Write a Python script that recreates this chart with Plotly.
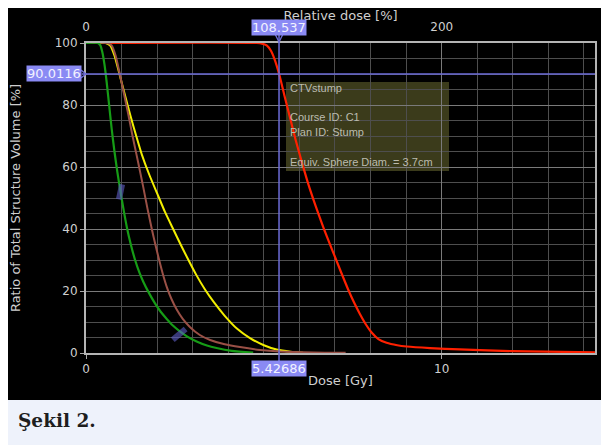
import plotly.graph_objects as go

# ---------------- data ----------------
green_dose = [0.00, 0.33, 0.40, 0.46, 0.52, 0.58, 0.65, 0.72, 0.80, 0.88, 0.97, 1.06, 1.15, 1.26, 1.38, 1.50, 1.61,
              1.75, 1.94, 2.10, 2.27, 2.45, 2.64, 2.85, 3.11, 3.40, 3.67, 4.10, 4.70]
green_vol = [100.0, 100.0, 99.3, 97.0, 93.0, 87.5, 80.0, 72.5, 65.0, 58.5, 52.0, 46.0, 40.5, 35.0, 30.0, 26.0, 23.0,
             19.8, 16.0, 13.3, 11.0, 8.8, 7.0, 5.3, 3.7, 2.4, 1.6, 0.7, 0.1]

brown_dose = [0.00, 0.60, 0.72, 0.83, 0.94, 1.06, 1.18, 1.30, 1.42, 1.52, 1.61, 1.73, 1.85, 1.95, 2.05, 2.16, 2.28,
              2.40, 2.55, 2.72, 2.92, 3.20, 3.49, 3.90, 4.33, 4.90, 5.45, 6.40, 7.30]
brown_vol = [100.0, 100.0, 99.2, 96.0, 90.5, 84.0, 77.5, 70.5, 64.0, 58.5, 53.5, 46.5, 40.0, 35.0, 30.3, 25.5, 21.0,
             17.5, 14.0, 11.0, 8.4, 5.8, 4.2, 2.8, 1.9, 1.0, 0.5, 0.15, 0.05]

yellow_dose = [0.00, 0.55, 0.68, 0.80, 0.94, 1.10, 1.25, 1.40, 1.57, 1.78, 2.00, 2.22, 2.45, 2.66, 2.88, 3.10, 3.35,
               3.60, 3.90, 4.25, 4.61, 5.00, 5.36, 5.75, 6.10]
yellow_vol = [100.0, 100.0, 99.2, 96.0, 90.0, 83.0, 76.5, 70.5, 64.0, 57.5, 51.5, 45.5, 40.0, 35.0, 30.0, 25.2, 20.4,
              16.3, 12.0, 7.8, 4.8, 2.5, 1.1, 0.4, 0.1]

red_dose = [0.00, 4.80, 4.95, 5.08, 5.20, 5.31, 5.43, 5.58, 5.74, 5.90, 6.07, 6.25, 6.46, 6.67, 6.84, 7.00, 7.18,
            7.37, 7.54, 7.70, 7.87, 8.03, 8.22, 8.45, 8.75, 9.02, 9.67, 10.50, 12.00, 14.31]
red_vol = [100.0, 100.0, 99.8, 99.2, 97.5, 94.5, 90.0, 83.0, 75.7, 68.5, 61.5, 54.5, 47.3, 40.6, 35.6, 31.0, 25.8,
           20.5, 16.2, 12.6, 9.2, 6.6, 4.5, 3.3, 2.5, 2.1, 1.6, 1.15, 0.6, 0.2]

# handles drawn on the curves (dose, volume)
handle_dose = [0.12, 0.97, 2.62]
handle_vol = [100.2, 52.0, 6.0]

# cursor readout
cursor_dose = 5.42686
cursor_rel = 108.537
cursor_vol = 90.0116

x_max = 14.31
rel_per_gy = cursor_rel / cursor_dose

x_ticks = [0, 10]
rel_ticks = [0, 200]
y_ticks = [0, 20, 40, 60, 80, 100]

legend_lines = ["CTVstump", "Course ID: C1", "Plan ID: Stump", "Equiv. Sphere Diam. = 3.7cm"]
legend_rows = [88.5, 117, 132, 162]

# ---------------- layout geometry (page has an 8px body margin) ----------------
OFF = 8
W, H = 609 - OFF, 445 - OFF
L, T = 86 - OFF, 43 - OFF
PW, PH = 509, 310
R, B = W - L - PW, H - T - PH


def px_x(px):  # reference-picture pixel -> paper x
    return (px - OFF - L) / PW


def px_y(py):  # reference-picture pixel -> paper y
    return (T + PH - (py - OFF)) / PH


TXT = "#cfcfcf"
CUR = "#6d6dd8"
FONT = "DejaVu Sans"
SPL = 0.6

fig = go.Figure()

fig.add_trace(go.Scatter(x=red_dose, y=red_vol, mode="lines", line=dict(color="#ff2000", width=2.2, shape="spline", smoothing=SPL), cliponaxis=False, hoverinfo="skip"))
fig.add_trace(go.Scatter(x=yellow_dose, y=yellow_vol, mode="lines", line=dict(color="#f2ee00", width=2, shape="spline", smoothing=SPL), cliponaxis=False, hoverinfo="skip"))
fig.add_trace(go.Scatter(x=brown_dose, y=brown_vol, mode="lines", line=dict(color="#9a5046", width=2, shape="spline", smoothing=SPL), cliponaxis=False, hoverinfo="skip"))
fig.add_trace(go.Scatter(x=green_dose, y=green_vol, mode="lines", line=dict(color="#169c16", width=2.2, shape="spline", smoothing=SPL), cliponaxis=False, hoverinfo="skip"))

fig.add_trace(go.Scatter(
    x=handle_dose, y=handle_vol, mode="markers", cliponaxis=False, hoverinfo="skip",
    marker=dict(symbol="line-ns", size=[7, 11, 12], angle=[0, 12, 50],
                line=dict(color="rgba(95,95,200,0.85)", width=[10, 6, 6])),
))

# invisible trace for the relative-dose axis
fig.add_trace(go.Scatter(x=[0, x_max * rel_per_gy], y=[None, None], xaxis="x2", mode="lines", hoverinfo="skip"))

shapes = [
    # dark panel and caption panel
    dict(type="rect", xref="paper", yref="paper", x0=px_x(7), x1=px_x(603), y0=px_y(400), y1=px_y(6),
         fillcolor="black", line=dict(width=0), layer="below"),
    dict(type="rect", xref="paper", yref="paper", x0=px_x(7), x1=px_x(603), y0=px_y(445), y1=px_y(400),
         fillcolor="#eef2fb", line=dict(width=0), layer="below"),
    # info box
    dict(type="rect", xref="paper", yref="paper", x0=px_x(286), x1=px_x(449), y0=px_y(171), y1=px_y(82),
         fillcolor="rgba(130,130,60,0.45)", line=dict(width=0), layer="between"),
    # cursor lines
    dict(type="line", xref="x", yref="paper", x0=cursor_dose, x1=cursor_dose, y0=px_y(361), y1=px_y(34),
         line=dict(color=CUR, width=1.5)),
    dict(type="line", xref="paper", yref="y", x0=px_x(82), x1=1, y0=cursor_vol, y1=cursor_vol,
         line=dict(color=CUR, width=1.5)),
    # little chevrons at the cursor labels
    dict(type="path", xref="x", yref="paper", xsizemode="pixel", ysizemode="pixel",
         xanchor=cursor_dose, yanchor=1, path="M -4,9 L 0,1 L 4,9", line=dict(color=CUR, width=1.3)),
    dict(type="path", xref="x", yref="y", xsizemode="pixel", ysizemode="pixel",
         xanchor=cursor_dose, yanchor=0, path="M -4,-8 L 0,0 L 4,-8", line=dict(color=CUR, width=1.3)),
    dict(type="path", xref="paper", yref="y", xsizemode="pixel", ysizemode="pixel",
         xanchor=0, yanchor=cursor_vol, path="M -5,4 L 0,0 L -5,-4", line=dict(color=CUR, width=1.3)),
]

lab = dict(showarrow=False, bgcolor="#8a8af4", font=dict(family=FONT, size=13, color="#f2f2ff"), borderpad=0,
           xanchor="center", yanchor="middle")
annotations = [
    dict(text=f"{cursor_rel:g}", x=cursor_dose, xref="x", y=px_y(27), yref="paper", **lab),
    dict(text=f"{cursor_dose:g}", x=cursor_dose, xref="x", y=px_y(368), yref="paper", **lab),
    dict(text=f"{cursor_vol:g}", x=px_x(54), xref="paper", y=cursor_vol, yref="y", **lab),
    dict(text="<b>Şekil 2.</b>", x=px_x(16), xref="paper", xanchor="left", y=px_y(421), yref="paper",
         yanchor="middle", showarrow=False, font=dict(family="DejaVu Serif", size=18.5, color="#1e1e1e")),
]
for line, row in zip(legend_lines, legend_rows):
    annotations.append(dict(text=line, x=px_x(288), xref="paper", xanchor="left", y=px_y(row), yref="paper",
                            yanchor="middle", showarrow=False,
                            font=dict(family="Liberation Sans", size=11, color="#bcbcae")))

fig.update_layout(
    width=W, height=H, margin=dict(l=L, r=R, t=T, b=B, autoexpand=False),
    paper_bgcolor="white", plot_bgcolor="black", showlegend=False,
    shapes=shapes, annotations=annotations,
    font=dict(family=FONT, color=TXT),
    xaxis=dict(range=[0, x_max], tickvals=x_ticks, ticks="outside", ticklen=4, tickcolor="#a8a8a8",
               showgrid=True, gridcolor="#7a7a7a", gridwidth=1.3, automargin=False,
               minor=dict(dtick=1, tick0=0, showgrid=True, gridcolor="#4e4e4e", gridwidth=1.3),
               showline=True, linecolor="#b4b4b4", linewidth=2, mirror=True, zeroline=False,
               tickfont=dict(family=FONT, size=12, color=TXT),
               title=dict(text="Dose [Gy]", font=dict(family=FONT, size=13, color=TXT), standoff=0)),
    xaxis2=dict(overlaying="x", side="top", range=[0, x_max * rel_per_gy], tickvals=rel_ticks,
                showgrid=False, ticks="outside", ticklen=6, tickcolor="rgba(0,0,0,0)", showline=False,
                zeroline=False, automargin=False, tickfont=dict(family=FONT, size=12, color=TXT),
                title=dict(text="Relative dose [%]", font=dict(family=FONT, size=13, color=TXT), standoff=0)),
    yaxis=dict(range=[0, 100], tickvals=y_ticks, ticks="outside", ticklen=4, tickcolor="#a8a8a8",
               showgrid=True, gridcolor="#7a7a7a", gridwidth=1.3, automargin=False,
               minor=dict(dtick=5, tick0=0, showgrid=True, gridcolor="#4e4e4e", gridwidth=1.3),
               showline=True, linecolor="#b4b4b4", linewidth=2, mirror=True, zeroline=False,
               tickfont=dict(family=FONT, size=12, color=TXT),
               title=dict(text="Ratio of Total Structure Volume [%]", font=dict(family=FONT, size=13, color=TXT),
                          standoff=32)),
)

fig.write_html("out.html")
